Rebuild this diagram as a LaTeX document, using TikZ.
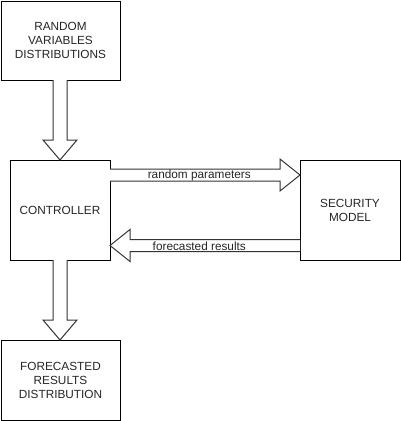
\documentclass[tikz,border=0pt]{standalone}
\usepackage{fontspec}
\setmainfont{Liberation Sans}
\usetikzlibrary{calc}
\begin{document}
\begin{tikzpicture}[x=1pt,y=-1pt,
  box/.style={draw=black,line width=1pt,fill=white,inner sep=0pt,outer sep=0pt,align=center,
    font=\fontsize{11.8}{14}\selectfont,text=black!85},
  arr/.style={draw=black!80,line width=1pt,fill=white,line join=miter},
  lbl/.style={font=\fontsize{11.8}{13}\selectfont,text=black!85,inner sep=0pt}]
\useasboundingbox (0,0) rectangle (401,421);
\node[box,minimum width=119pt,minimum height=79pt] (rv) at (60.5,40.5) {RANDOM\\VARIABLES\\DISTRIBUTIONS};
\node[box,minimum width=100pt,minimum height=100pt] (ctrl) at (60,210) {CONTROLLER};
\node[box,minimum width=119pt,minimum height=80pt] (frd) at (60.5,380) {FORECASTED\\RESULTS\\DISTRIBUTION};
\node[box,minimum width=100pt,minimum height=100pt] (sec) at (350,210) {SECURITY\\MODEL};
% down arrow rv -> ctrl
\coordinate (d1a) at (ctrl.north |- rv.south);
\draw[arr] ($(d1a)+(-7,0)$) -- ($(ctrl.north)+(-7,-20)$) -- ($(ctrl.north)+(-17,-20)$) -- (ctrl.north)
  -- ($(ctrl.north)+(17,-20)$) -- ($(ctrl.north)+(7,-20)$) -- ($(d1a)+(7,0)$);
% down arrow ctrl -> frd
\coordinate (d2b) at (ctrl.south |- frd.north);
\draw[arr] ($(ctrl.south)+(-7,0)$) -- ($(d2b)+(-7,-20)$) -- ($(d2b)+(-17,-20)$) -- (d2b)
  -- ($(d2b)+(17,-20)$) -- ($(d2b)+(7,-20)$) -- ($(ctrl.south)+(7,0)$);
% right arrow ctrl -> sec
\coordinate (r1) at ($(ctrl.north east)+(0,15)$);
\coordinate (r2) at (r1 -| sec.west);
\draw[arr] ($(r1)+(0,-6)$) -- ($(r2)+(-20,-6)$) -- ($(r2)+(-20,-16)$) -- (r2)
  -- ($(r2)+(-20,16)$) -- ($(r2)+(-20,6)$) -- ($(r1)+(0,6)$);
\node[lbl] (rp) at ($(r1)!0.47!(r2)$) {random parameters};
% left arrow sec -> ctrl
\coordinate (l1) at ($(sec.north west)+(0,85.5)$);
\coordinate (l2) at (l1 -| ctrl.east);
\draw[arr] ($(l1)+(0,-6)$) -- ($(l2)+(20,-6)$) -- ($(l2)+(20,-16)$) -- (l2)
  -- ($(l2)+(20,16)$) -- ($(l2)+(20,6)$) -- ($(l1)+(0,6)$);
\node[lbl] (fr) at ($(l2)!0.47!(l1)+(0,1)$) {forecasted results};
\end{tikzpicture}
\end{document}
